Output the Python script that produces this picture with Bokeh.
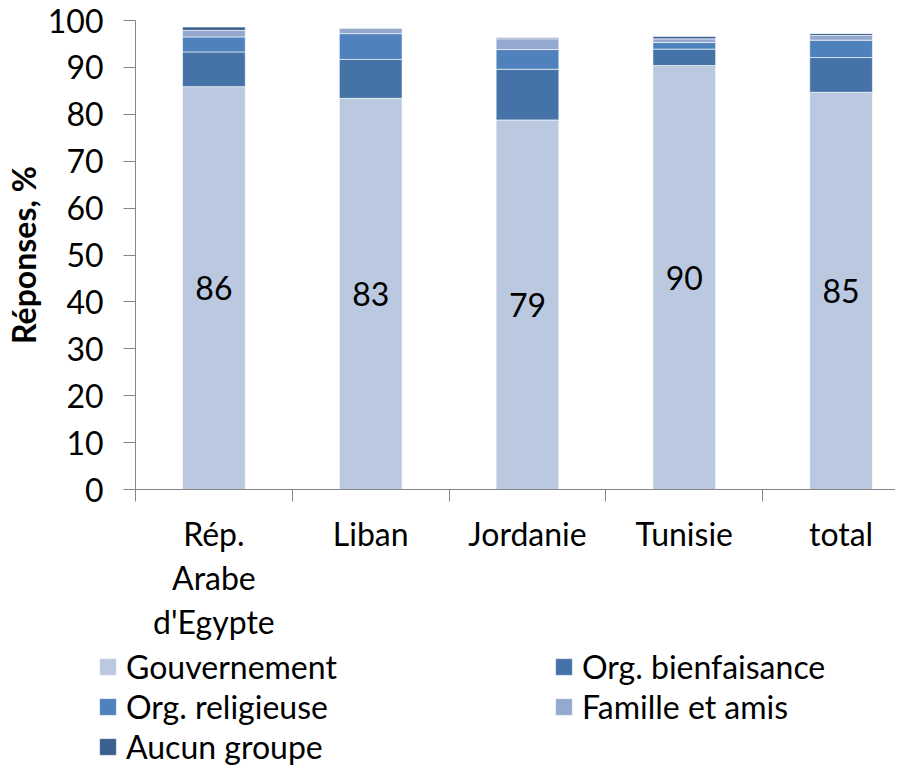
from bokeh.plotting import figure
from bokeh.layouts import column
from bokeh.models import Range1d, FixedTicker, Legend, LegendItem, ColumnDataSource
from bokeh.core.properties import value
from bokeh.embed import file_html
from bokeh.resources import INLINE

countries = ["Rép.\nArabe\nd'Egypte", "Liban", "Jordanie", "Tunisie", "total"]
series_names = ["Gouvernement", "Org. bienfaisance", "Org. religieuse", "Famille et amis", "Aucun groupe"]
gouvernement = [85.9, 83.4, 78.8, 90.4, 84.7]
bienfaisance = [7.4, 8.3, 10.8, 3.5, 7.4]
religieuse = [3.2, 5.5, 4.2, 1.4, 3.7]
famille = [1.4, 1.1, 2.3, 0.8, 1.0]
aucun = [0.7, 0.1, 0.2, 0.5, 0.4]
labels = ["86", "83", "79", "90", "85"]
y_ticks = [0, 10, 20, 30, 40, 50, 60, 70, 80, 90, 100]
colors = ["#BAC8E0", "#4573A7", "#4F81BD", "#95A8D0", "#3B5F8F"]

FONT = "Lato"
FS = "32px"

xs = list(range(len(countries)))
keys = ["gouv", "bienf", "relig", "fam", "aucun"]
src = ColumnDataSource(dict(x=xs, gouv=gouvernement, bienf=bienfaisance, relig=religieuse,
                            fam=famille, aucun=aucun, lab=labels,
                            ylab=[g / 2 for g in gouvernement]))

p = figure(width=895, height=649, output_backend="svg", toolbar_location=None,
           x_range=Range1d(-0.5, 4.347), y_range=Range1d(0, 100),
           min_border_left=134, min_border_top=20, min_border_right=0, min_border_bottom=160)
p.xgrid.visible = False
p.ygrid.visible = False
p.outline_line_color = None
p.background_fill_color = "white"
p.border_fill_color = "white"

renderers = p.vbar_stack(keys, x="x", width=0.4, source=src, color=colors,
                         line_color="white", line_alpha=0.6, line_width=1)

p.text(x="x", y="ylab", text="lab", source=src, text_font=value(FONT), text_font_size=FS,
       text_align="center", text_baseline="middle", text_color="black")

axis_color = "#868686"
# y axis
ya = p.yaxis[0]
ya.ticker = FixedTicker(ticks=y_ticks, minor_ticks=[])
ya.axis_line_color = axis_color
ya.major_tick_line_color = axis_color
ya.major_tick_out = 12
ya.major_tick_in = 0
ya.minor_tick_out = 0
ya.major_label_text_font = FONT
ya.major_label_text_font_size = FS
ya.major_label_text_color = "black"
ya.major_label_standoff = 20
ya.axis_label = "Réponses, %"
ya.axis_label_text_font = FONT
ya.axis_label_text_font_size = FS
ya.axis_label_text_font_style = "bold"
ya.axis_label_text_color = "black"
ya.axis_label_standoff = 2

# x axis
xa = p.xaxis[0]
xa.ticker = FixedTicker(ticks=xs, minor_ticks=[i - 0.5 for i in range(len(countries) + 1)])
xa.major_label_overrides = {i: c for i, c in enumerate(countries)}
xa.axis_line_color = axis_color
xa.major_tick_out = 0
xa.major_tick_in = 0
xa.minor_tick_line_color = axis_color
xa.minor_tick_out = 12
xa.minor_tick_in = 0
xa.major_label_text_font = FONT
xa.major_label_text_font_size = FS
xa.major_label_text_color = "black"
xa.major_label_text_line_height = 1.14
xa.major_label_standoff = 12

# legend panel: same stacked series, kept out of view so only the legend shows
lf = figure(width=895, height=117, output_backend="svg", toolbar_location=None,
            x_range=Range1d(-0.5, 4.347), y_range=Range1d(1000, 1001),
            x_axis_location=None, y_axis_location=None,
            min_border=0, min_border_left=0, min_border_right=0, min_border_top=0, min_border_bottom=0)
lf.xgrid.visible = False
lf.ygrid.visible = False
lf.outline_line_color = None
swatches = lf.vbar_stack(keys, x="x", width=0.4, source=src, color=colors,
                         line_color="white", line_alpha=0.6, line_width=1)
legend = Legend(items=[LegendItem(label=series_names[i], renderers=[swatches[i]]) for i in range(5)],
                location=(97, 0), orientation="horizontal", ncols=2,
                label_text_font=FONT, label_text_font_size=FS, label_text_color="black",
                glyph_width=21, glyph_height=21, label_standoff=8,
                label_width=426, spacing=1, padding=0, margin=0, border_line_color=None,
                background_fill_alpha=0)
lf.add_layout(legend, "center")

layout = column(p, column(lf, spacing=0), spacing=0)
open("out.html", "w").write(file_html(layout, INLINE))
